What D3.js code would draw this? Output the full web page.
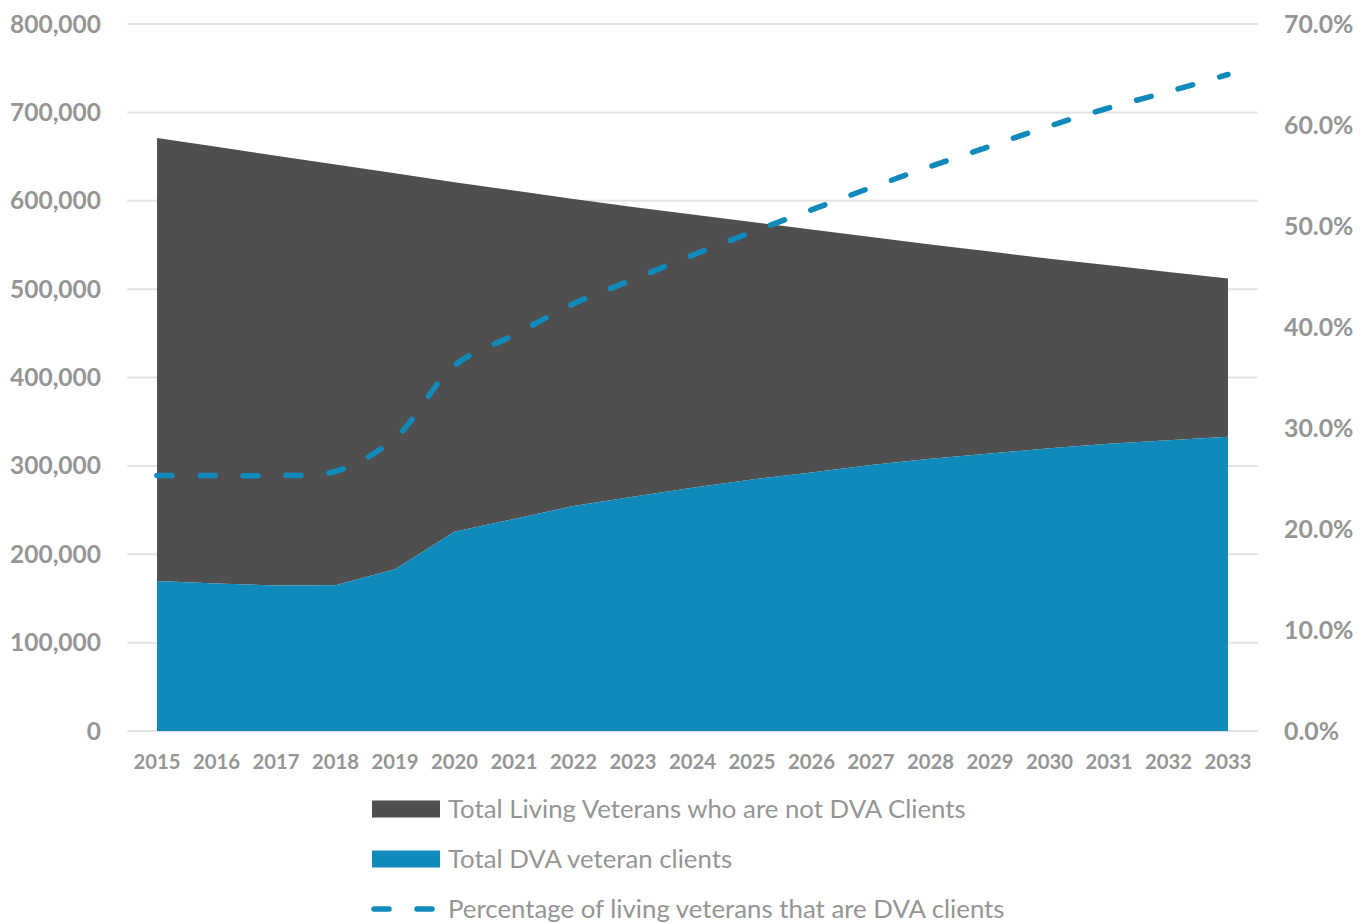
<!DOCTYPE html>
<html>
<head>
<meta charset="utf-8">
<script src="https://cdn.jsdelivr.net/npm/d3@7"></script>
<style>
  body { margin: 0; background: #fff; }
  svg { display: block; font-family: Lato, "Open Sans", sans-serif; }
</style>
</head>
<body>
<div id="chart"></div>
<script>
// data
const years = [2015, 2016, 2017, 2018, 2019, 2020, 2021, 2022, 2023, 2024,
               2025, 2026, 2027, 2028, 2029, 2030, 2031, 2032, 2033];
const totalVeterans = [671000, 661000, 651000, 641000, 631000, 621000, 611500, 602000, 593000, 584500,
                       576000, 567500, 559000, 550500, 542500, 534500, 527000, 519500, 512000];
const dvaClients = [169700, 167000, 164600, 165000, 183000, 225500, 240000, 254500, 265000, 275200,
                    284700, 292600, 301000, 308000, 314000, 320000, 325000, 329000, 333000];
const pctClients = [0.253, 0.253, 0.253, 0.257, 0.290, 0.362, 0.392, 0.423, 0.447, 0.471,
                    0.494, 0.516, 0.538, 0.559, 0.579, 0.599, 0.617, 0.633, 0.650];
const leftTicks = [0, 100000, 200000, 300000, 400000, 500000, 600000, 700000, 800000];
const rightTicks = [0, 0.1, 0.2, 0.3, 0.4, 0.5, 0.6, 0.7];
const legendLabels = ["Total Living Veterans who are not DVA Clients",
                      "Total DVA veteran clients",
                      "Percentage of living veterans that are DVA clients"];

const width = 1371, height = 924;
const grey = "#4f4f4f", blue = "#1089bb", textCol = "#959595";

const svg = d3.select("#chart").append("svg")
    .attr("width", width)
    .attr("height", height);

const x = d3.scalePoint().domain(years).range([127.25, 1257.75]).padding(0.5);
const y = d3.scaleLinear().domain([0, 800000]).range([731, 24]);
const y2 = d3.scaleLinear().domain([0, 0.7]).range([731, 24]);

// gridlines
svg.append("g")
    .selectAll("line")
    .data(leftTicks)
    .join("line")
    .attr("x1", 127.25).attr("x2", 1257.75)
    .attr("y1", d => y(d)).attr("y2", d => y(d))
    .attr("stroke", "#e3e3e3")
    .attr("stroke-width", 2);

const rows = years.map((yr, i) => ({ year: yr, total: totalVeterans[i], dva: dvaClients[i], pct: pctClients[i] }));

// not-clients area (between clients and total)
svg.append("path")
    .datum(rows)
    .attr("fill", grey)
    .attr("d", d3.area()
        .x(d => x(d.year))
        .y0(d => y(d.dva))
        .y1(d => y(d.total)));

// DVA clients area
svg.append("path")
    .datum(rows)
    .attr("fill", blue)
    .attr("d", d3.area()
        .x(d => x(d.year))
        .y0(y(0))
        .y1(d => y(d.dva)));

// percentage line
svg.append("path")
    .datum(rows)
    .attr("fill", "none")
    .attr("stroke", blue)
    .attr("stroke-width", 5.5)
    .attr("stroke-linecap", "round")
    .attr("stroke-dasharray", "15 28")
    .attr("d", d3.line()
        .curve(d3.curveCatmullRom.alpha(0.5))
        .x(d => x(d.year))
        .y(d => y2(d.pct)));

// left axis
const fmt = d3.format(",");
svg.append("g")
    .selectAll("text")
    .data(leftTicks)
    .join("text")
    .attr("x", 101)
    .attr("y", d => y(d))
    .attr("dy", "0.35em")
    .attr("text-anchor", "end")
    .attr("font-size", 24.5)
    .attr("font-weight", "bold")
    .attr("fill", textCol)
    .text(d => fmt(d));

// right axis
svg.append("g")
    .selectAll("text")
    .data(rightTicks)
    .join("text")
    .attr("x", 1284)
    .attr("y", d => y2(d))
    .attr("dy", "0.35em")
    .attr("font-size", 24.8)
    .attr("font-weight", "bold")
    .attr("fill", textCol)
    .text(d => d3.format(".1%")(d));

// x axis labels
svg.append("g")
    .selectAll("text")
    .data(years)
    .join("text")
    .attr("x", d => x(d))
    .attr("y", 762)
    .attr("dy", "0.35em")
    .attr("text-anchor", "middle")
    .attr("font-size", 20.3)
    .attr("font-weight", "bold")
    .attr("fill", textCol)
    .text(d => d);

// legend
const legend = svg.append("g");
const legY = [809, 859, 909];
legend.append("rect").attr("x", 372).attr("y", legY[0] - 8.5).attr("width", 68).attr("height", 17).attr("fill", grey);
legend.append("rect").attr("x", 372).attr("y", legY[1] - 8.5).attr("width", 68).attr("height", 17).attr("fill", blue);
legend.append("line")
    .attr("x1", 374).attr("x2", 434)
    .attr("y1", legY[2]).attr("y2", legY[2])
    .attr("stroke", blue)
    .attr("stroke-width", 5.5)
    .attr("stroke-linecap", "round")
    .attr("stroke-dasharray", "15 28");
legend.selectAll("text")
    .data(legendLabels)
    .join("text")
    .attr("x", 448)
    .attr("y", (d, i) => legY[i])
    .attr("dy", "0.35em")
    .attr("font-size", 25.8)
    .attr("fill", textCol)
    .text(d => d);
</script>
</body>
</html>
